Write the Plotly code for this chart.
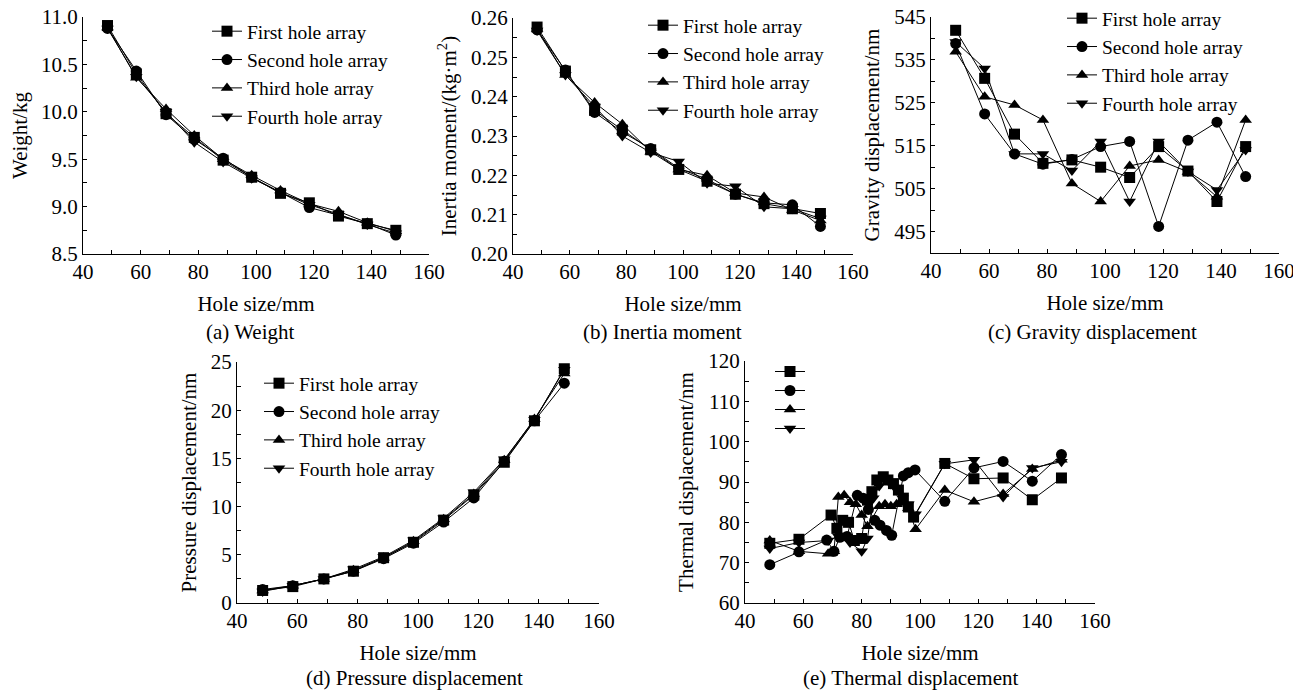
import plotly.graph_objects as go

W, H = 1301, 692
OFF = 8  # page body margin offset of the rendered figure
FONT = "Liberation Serif"
FS = 21
LFS = 19.5

# ---------------- data ----------------
names = ["First hole array", "Second hole array", "Third hole array", "Fourth hole array"]
symbols = ["square", "circle", "triangle-up", "triangle-down"]
hole = [48.5, 58.5, 68.8, 78.6, 88.6, 98.5, 108.5, 118.5, 128.6, 138.6, 148.5]

weight_first = [10.91, 10.40, 9.98, 9.73, 9.49, 9.31, 9.14, 9.04, 8.90, 8.82, 8.75]
weight_second = [10.88, 10.43, 9.97, 9.71, 9.51, 9.31, 9.15, 8.99, 8.91, 8.82, 8.70]
weight_third = [10.89, 10.36, 10.03, 9.75, 9.50, 9.33, 9.17, 9.03, 8.95, 8.83, 8.74]
weight_fourth = [10.88, 10.37, 10.00, 9.68, 9.47, 9.30, 9.15, 9.02, 8.92, 8.81, 8.72]

inertia_first = [0.2577, 0.2465, 0.2365, 0.2315, 0.2265, 0.2215, 0.2185, 0.2152, 0.2128, 0.2115, 0.2103]
inertia_second = [0.2570, 0.2468, 0.2360, 0.2310, 0.2268, 0.2218, 0.2190, 0.2152, 0.2130, 0.2125, 0.2070]
inertia_third = [0.2572, 0.2455, 0.2385, 0.2330, 0.2260, 0.2215, 0.2200, 0.2155, 0.2145, 0.2112, 0.2085]
inertia_fourth = [0.2568, 0.2455, 0.2375, 0.2300, 0.2258, 0.2235, 0.2180, 0.2172, 0.2120, 0.2115, 0.2090]

gravity_first = [541.9, 530.7, 517.7, 510.9, 511.7, 510.0, 507.6, 514.8, 509.1, 502.0, 514.8]
gravity_second = [538.8, 522.4, 513.1, 510.7, 511.8, 514.8, 516.0, 496.2, 516.3, 520.5, 507.8]
gravity_third = [536.9, 526.4, 524.5, 521.0, 506.2, 502.0, 510.3, 511.7, 508.9, 503.1, 521.0]
gravity_fourth = [539.2, 533.0, 513.1, 513.1, 509.2, 516.0, 502.0, 516.0, 509.0, 504.7, 514.0]

pressure_first = [1.3, 1.7, 2.5, 3.3, 4.7, 6.3, 8.6, 11.2, 14.6, 18.9, 24.3]
pressure_second = [1.4, 1.8, 2.5, 3.3, 4.6, 6.2, 8.4, 10.9, 14.7, 18.9, 22.8]
pressure_third = [1.3, 1.8, 2.5, 3.4, 4.7, 6.4, 8.7, 11.3, 14.8, 19.1, 23.8]
pressure_fourth = [1.2, 1.8, 2.5, 3.5, 4.8, 6.5, 8.8, 11.5, 14.9, 19.0, 24.2]

thermal_x_first = [48.5, 58.5, 69.5, 71.5, 73.5, 75.5, 77.5, 80, 82, 83.5, 85.2, 87.4, 89,
                   90.9, 92.6, 94.3, 96, 97.8, 108.5, 118.5, 128.5, 138.5, 148.5]
thermal_first = [74.8, 75.8, 81.8, 78.5, 80.5, 80.0, 75.5, 76.0, 85.5, 87.6, 90.5, 91.3, 90.5,
                 89.6, 88.0, 86.0, 83.8, 81.3, 94.6, 90.8, 91.0, 85.6, 91.0]
thermal_x_second = [48.5, 58.5, 68, 70.5, 72.5, 75, 78.5, 80.5, 82.3, 84.5, 86.3, 88.5, 90.3,
                    94.3, 96, 98.3, 108.5, 118.5, 128.5, 138.5, 148.5]
thermal_second = [69.5, 72.7, 75.6, 72.8, 76.3, 76.5, 86.7, 86.0, 83.2, 80.5, 79.3, 78.0, 76.8,
                  91.5, 92.3, 93.0, 85.2, 93.5, 95.1, 90.2, 96.8]
thermal_x_third = [48.5, 58.5, 68.5, 70.5, 72, 74, 76, 78, 80, 82, 86, 88, 90, 92, 94, 96,
                   98.5, 108.5, 118.5, 128.5, 138.5, 148.5]
thermal_third = [75.5, 72.8, 72.2, 72.8, 86.3, 86.7, 85.0, 84.5, 81.8, 79.0, 84.0, 84.5, 84.0,
                 84.5, 84.8, 83.5, 78.3, 88.0, 85.1, 87.0, 93.2, 95.5]
thermal_x_fourth = [48.5, 58.5, 68.5, 72, 76, 80, 82, 84, 86, 88, 90, 92, 94, 96, 98.5,
                    108.5, 118.5, 128.5, 138.5, 148.5]
thermal_fourth = [73.5, 75.0, 75.5, 76.5, 75.0, 72.8, 76.0, 86.0, 89.0, 90.8, 89.5, 88.0, 86.0,
                  84.5, 82.0, 94.5, 95.5, 86.3, 93.5, 95.0]

x_title = "Hole size/mm"

# ---------------- layout helpers ----------------
def px_x(v):
    return (v - OFF) / W

def px_y(v):
    return 1 - (v - OFF) / H

def xd(l, r):
    return [px_x(l), px_x(r)]

def yd(top, bottom):
    return [px_y(bottom), px_y(top)]

panels = [
    dict(key="", leg="legend", xdom=xd(83, 429), ydom=yd(17, 254), yr=[8.5, 11.0], dt=0.5, t0=8.5,
         fmt=".1f", ytitle="Weight/kg",
         series=[(hole, weight_first), (hole, weight_second), (hole, weight_third), (hole, weight_fourth)],
         caption="(a) Weight", cap_x=250, cap_y=332, lx=207, ly=12, show_names=True),
    dict(key="2", leg="legend2", xdom=xd(513, 853), ydom=yd(18, 254), yr=[0.20, 0.26], dt=0.01, t0=0.20,
         fmt=".2f", ytitle="Inertia moment/(kg·m<sup>2</sup>)",
         series=[(hole, inertia_first), (hole, inertia_second), (hole, inertia_third), (hole, inertia_fourth)],
         caption="(b) Inertia moment", cap_x=662, cap_y=332, lx=643, ly=6, show_names=True),
    dict(key="3", leg="legend3", xdom=xd(931, 1279), ydom=yd(17, 253), yr=[490, 545], dt=10, t0=495,
         fmt="d", ytitle="Gravity displacement/nm",
         series=[(hole, gravity_first), (hole, gravity_second), (hole, gravity_third), (hole, gravity_fourth)],
         caption="(c) Gravity displacement", cap_x=1092, cap_y=332, lx=1062, ly=-1, show_names=True),
    dict(key="4", leg="legend4", xdom=xd(237, 599), ydom=yd(362, 603), yr=[0, 25], dt=5, t0=0,
         fmt="d", ytitle="Pressure displacement/nm",
         series=[(hole, pressure_first), (hole, pressure_second), (hole, pressure_third), (hole, pressure_fourth)],
         caption="(d) Pressure displacement", cap_x=414, cap_y=678, lx=259, ly=364, show_names=True),
    dict(key="5", leg="legend5", xdom=xd(745, 1095), ydom=yd(361, 603), yr=[60, 120], dt=10, t0=60,
         fmt="d", ytitle="Thermal displacement/nm",
         series=[(thermal_x_first, thermal_first), (thermal_x_second, thermal_second),
                 (thermal_x_third, thermal_third), (thermal_x_fourth, thermal_fourth)],
         caption="(e) Thermal displacement", cap_x=911, cap_y=678, lx=770, ly=357, show_names=False),
]

fig = go.Figure()
layout = dict(
    width=W, height=H,
    margin=dict(l=0, r=0, t=0, b=0, autoexpand=False),
    paper_bgcolor="white", plot_bgcolor="white",
    font=dict(family=FONT, size=FS, color="black"),
    showlegend=True,
    annotations=[],
)

for p in panels:
    k = p["key"]
    xa = "x" + k
    ya = "y" + k
    for i, (xs, ys) in enumerate(p["series"]):
        fig.add_trace(go.Scatter(
            x=xs, y=ys, xaxis=xa, yaxis=ya,
            mode="lines+markers",
            name=names[i] if p["show_names"] else " ",
            legend=p["leg"],
            line=dict(color="black", width=1),
            marker=dict(symbol=symbols[i], size=11, color="black", line=dict(width=0)),
        ))
    axis_common = dict(showline=True, linecolor="black", linewidth=1, mirror=False,
                       showgrid=False, zeroline=False, ticks="inside", ticklen=4,
                       tickcolor="black", automargin=False, ticklabeloverflow="allow",
                       tickfont=dict(family=FONT, size=FS, color="black"))
    layout["xaxis" + k] = dict(
        domain=p["xdom"], anchor=ya, range=[40, 160], tick0=40, dtick=20,
        minor=dict(dtick=10, ticks="inside", ticklen=4, tickcolor="black"),
        ticklabelstandoff=-1,
        title=dict(text=x_title, font=dict(family=FONT, size=FS), standoff=13),
        **axis_common)
    layout["yaxis" + k] = dict(
        domain=p["ydom"], anchor=xa, range=p["yr"], tick0=p["t0"], dtick=p["dt"],
        tickformat=p["fmt"],
        minor=dict(dtick=p["dt"] / 2, ticks="inside", ticklen=4, tickcolor="black"),
        title=dict(text=p["ytitle"], font=dict(family=FONT, size=FS), standoff=8),
        **axis_common)
    leg_font = LFS if p["show_names"] else 11
    layout[p["leg"]] = dict(
        x=px_x(p["lx"]), y=px_y(p["ly"]), xanchor="left", yanchor="top",
        bgcolor="rgba(0,0,0,0)", borderwidth=0,
        font=dict(family=FONT, size=leg_font, color="black"),
        tracegroupgap=0, itemwidth=30,
    )
    layout["annotations"].append(dict(
        text=p["caption"], xref="paper", yref="paper",
        x=px_x(p["cap_x"]), y=px_y(p["cap_y"]),
        xanchor="center", yanchor="middle", showarrow=False,
        font=dict(family=FONT, size=FS, color="black")))

fig.update_layout(**layout)
fig.write_html("out.html")
